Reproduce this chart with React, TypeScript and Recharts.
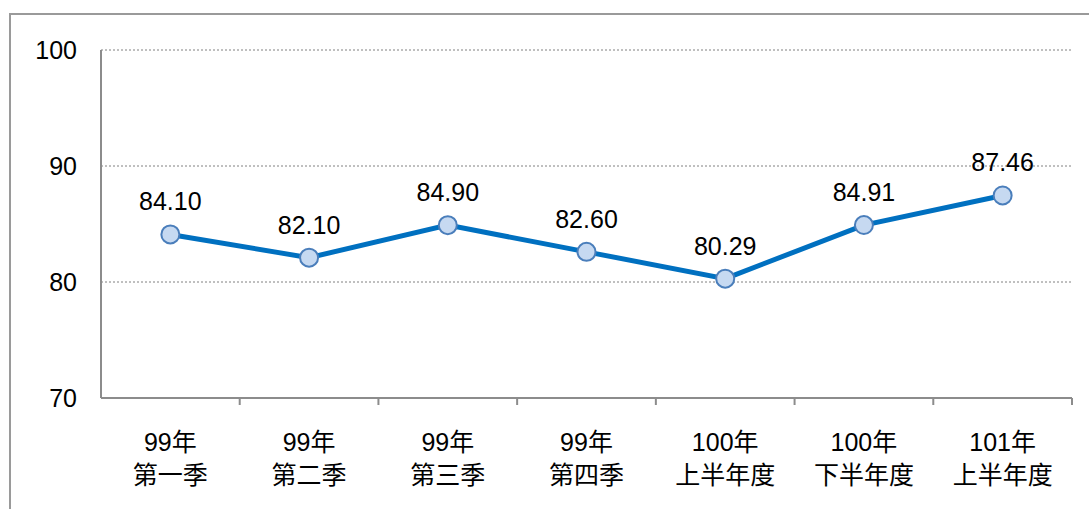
import { LineChart, Line, XAxis, YAxis, CartesianGrid, LabelList } from 'recharts'

const yearLabels = ['99年', '99年', '99年', '99年', '100年', '100年', '101年']
const periodLabels = ['第一季', '第二季', '第三季', '第四季', '上半年度', '下半年度', '上半年度']
const scores = [84.1, 82.1, 84.9, 82.6, 80.29, 84.91, 87.46]
const yTicks = [70, 80, 90, 100]

const data = scores.map((score, i) => ({
  key: i,
  year: yearLabels[i],
  period: periodLabels[i],
  score,
}))

const W = 1089
const H = 509
const margin = { top: 50, right: 17, bottom: 0, left: 0 }
const yAxisWidth = 101
const band = (W - margin.left - margin.right - yAxisWidth) / data.length

const font = '"Liberation Sans", Arial, "Noto Sans CJK TC", sans-serif'
const axisGray = '#8c8c8c'

function CategoryTick(props: any) {
  const { x, y, payload, index } = props
  const d = data[payload.value]
  const left = x - band / 2
  const right = x + band / 2
  return (
    <g>
      {index === 0 ? null : <line x1={left} x2={left} y1={y} y2={y + 7} stroke={axisGray} strokeWidth={2} />}
      {index === data.length - 1 ? <line x1={right} x2={right} y1={y} y2={y + 7} stroke={axisGray} strokeWidth={2} /> : null}
      <text x={x} textAnchor="middle" fontSize={25} fill="#000" fontFamily={font}>
        <tspan x={x} y={y + 53}>{d.year}</tspan>
        <tspan x={x} y={y + 86}>{d.period}</tspan>
      </text>
    </g>
  )
}

function ValueLabel(props: any) {
  const { x, y, value } = props
  return (
    <text x={x} y={y - 24} textAnchor="middle" fontSize={25} fill="#000" fontFamily={font}>
      {Number(value).toFixed(2)}
    </text>
  )
}

export default function App() {
  return (
    <div style={{ position: 'absolute', left: 0, top: 0, width: W, height: H, overflow: 'hidden', background: '#fff' }}>
      <div
        style={{
          position: 'absolute',
          left: 9,
          top: 13,
          width: 1090,
          height: 510,
          border: '2px solid #9a9a9a',
          boxSizing: 'border-box',
        }}
      />
      <div style={{ position: 'absolute', left: 0, top: 0 }}>
        <LineChart width={W} height={H} data={data} margin={margin}>
          <CartesianGrid yAxisId="left" vertical={false} stroke="#808080" strokeDasharray="2 2" />
          <XAxis
            dataKey="key"
            type="category"
            scale="band"
            height={111}
            axisLine={{ stroke: axisGray, strokeWidth: 2 }}
            tickLine={false}
            tickSize={0}
            tickMargin={0}
            interval={0}
            tick={<CategoryTick />}
          />
          <YAxis
            yAxisId="left"
            domain={[70, 100]}
            ticks={yTicks}
            width={yAxisWidth}
            tickLine={false}
            tickSize={0}
            tickMargin={24}
            axisLine={{ stroke: axisGray, strokeWidth: 2 }}
            tick={{ fontSize: 25, fill: '#000', fontFamily: font }}
          />
          <YAxis
            yAxisId="right"
            orientation="right"
            domain={[70, 100]}
            width={0}
            tick={false}
            tickLine={false}
            axisLine={{ stroke: axisGray, strokeWidth: 2 }}
          />
          <Line
            yAxisId="right"
            dataKey="score"
            stroke="none"
            dot={false}
            activeDot={false}
            legendType="none"
            isAnimationActive={false}
          />
          <Line
            yAxisId="left"
            dataKey="score"
            stroke="#0070C0"
            strokeWidth={5}
            dot={{ r: 9, fill: '#C6D9F1', stroke: '#4A7EBB', strokeWidth: 2 }}
            isAnimationActive={false}
          >
            <LabelList dataKey="score" content={<ValueLabel />} />
          </Line>
        </LineChart>
      </div>
    </div>
  )
}
